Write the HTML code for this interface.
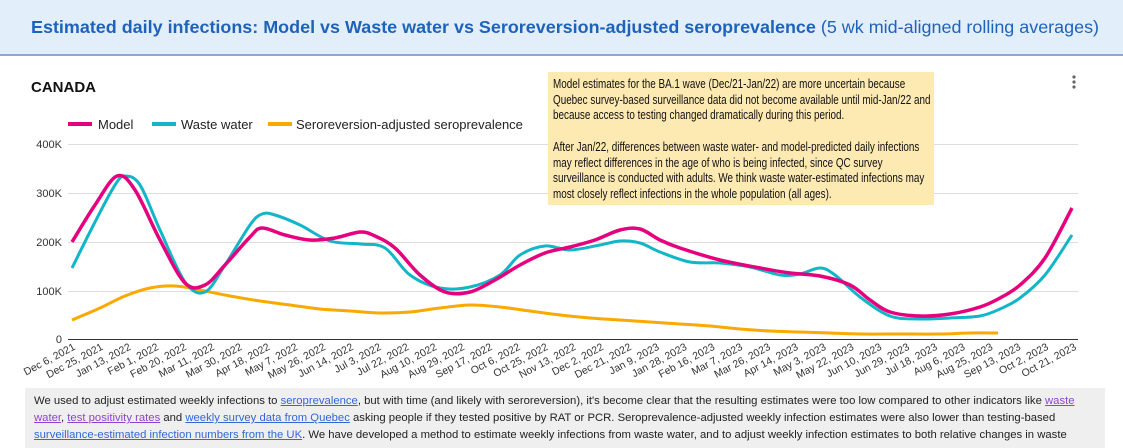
<!DOCTYPE html>
<html><head><meta charset="utf-8"><style>
body{margin:0;width:1123px;height:445px;overflow:hidden;background:#fff;font-family:"Liberation Sans",Arial,sans-serif;position:relative}
.hdr{position:absolute;left:0;top:0;width:1123px;height:54px;background:#e3eefb;border-bottom:2px solid #8fa6d6}
.hdr div{position:absolute;left:31px;top:17px;font-size:17.95px;color:#1e63b8;white-space:nowrap}
.card{position:absolute;left:0;top:56px;width:1123px;height:389px;background:#fff}
.note{position:absolute;left:548px;top:72px;width:386px;height:133px;background:#fde9b2;overflow:hidden}
.note div{position:absolute;left:5px;top:5px;font-size:12.6px;line-height:15.7px;color:#111;white-space:nowrap;transform:scaleX(0.785);transform-origin:0 0}
.bot{position:absolute;left:25px;top:388px;width:1080px;height:60px;background:#efefef;padding:5px 0 0 9px;box-sizing:border-box;font-size:11.3px;line-height:17px;color:#222;white-space:nowrap}
a{color:#3367d6;text-decoration:underline}
a.v{color:#8e44d0}
</style></head><body>
<div class="hdr"><div><b>Estimated daily infections: Model vs Waste water vs Seroreversion-adjusted seroprevalence</b> (5 wk mid-aligned rolling averages)</div></div>
<div class="card"></div>
<svg width="1123" height="445" style="position:absolute;left:0;top:0" font-family="Liberation Sans, Arial, sans-serif">
<text x="31" y="92" font-size="15" font-weight="bold" fill="#111">CANADA</text>
<g font-size="13" fill="#222">
<rect x="68" y="122" width="24" height="4" fill="#e5007d"/><text x="98" y="129">Model</text>
<rect x="152" y="122" width="24" height="4" fill="#13b5c7"/><text x="181" y="129">Waste water</text>
<rect x="268" y="122" width="24" height="4" fill="#f9a900"/><text x="296" y="129">Seroreversion-adjusted seroprevalence</text>
</g>
<g stroke="#ddd" stroke-width="1">
<line x1="68" x2="1078" y1="144.5" y2="144.5"/><line x1="68" x2="1078" y1="193.5" y2="193.5"/>
<line x1="68" x2="1078" y1="242.5" y2="242.5"/><line x1="68" x2="1078" y1="291.5" y2="291.5"/>
</g>
<line x1="68" x2="1078" y1="339.5" y2="339.5" stroke="#333"/>
<g font-size="11" fill="#333" text-anchor="end">
<text x="62" y="148">400K</text><text x="62" y="197">300K</text><text x="62" y="246">200K</text><text x="62" y="295">100K</text><text x="62" y="343">0</text>
</g>
<g id="xl" font-size="10.5" fill="#333" text-anchor="end"></g>
<path id="s" fill="none" stroke="#f9a900" stroke-width="3"/>
<path id="w" fill="none" stroke="#13b5c7" stroke-width="3"/>
<path id="m" fill="none" stroke="#e5007d" stroke-width="3.5"/>
<g fill="#666"><circle cx="1074" cy="77" r="1.6"/><circle cx="1074" cy="82" r="1.6"/><circle cx="1074" cy="87" r="1.6"/></g>
</svg>
<div class="note"><div>Model estimates for the BA.1 wave (Dec/21-Jan/22) are more uncertain because<br>Quebec survey-based surveillance data did not become available until mid-Jan/22 and<br>because access to testing changed dramatically during this period.<br><br>After Jan/22, differences between waste water- and model-predicted daily infections<br>may reflect differences in the age of who is being infected, since QC survey<br>surveillance is conducted with adults. We think waste water-estimated infections may<br>most closely reflect infections in the whole population (all ages).</div></div>
<div class="bot">We used to adjust estimated weekly infections to <a>seroprevalence</a>, but with time (and likely with seroreversion), it's become clear that the resulting estimates were too low compared to other indicators like <a class="v">waste</a><br><a class="v">water</a>, <a class="v">test positivity rates</a> and <a>weekly survey data from Quebec</a> asking people if they tested positive by RAT or PCR. Seroprevalence-adjusted weekly infection estimates were also lower than testing-based<br><a>surveillance-estimated infection numbers from the UK</a>. We have developed a method to estimate weekly infections from waste water, and to adjust weekly infection estimates to both relative changes in waste</div>
<script>
function sm(p){let d="M"+p[0][0]+","+p[0][1];for(let i=0;i<p.length-1;i++){const a=p[i-1]||p[i],b=p[i],c=p[i+1],e=p[i+2]||c;d+=" C"+(b[0]+(c[0]-a[0])/6)+","+(b[1]+(c[1]-a[1])/6)+" "+(c[0]-(e[0]-b[0])/6)+","+(c[1]-(e[1]-b[1])/6)+" "+c[0]+","+c[1];}return d;}
const m=[[72,242],[95,205],[117,176],[135,190],[160,240],[185,283],[205,285],[225,265],[250,237],[262,228],[285,235],[310,240],[335,238],[360,232],[375,236],[395,248],[420,275],[445,292],[470,292],[495,280],[520,265],[545,253],[570,247],[595,240],[620,230],[640,229],[660,240],[680,248],[720,260],[760,268],[790,273],[820,276],[850,285],[870,300],[890,312],[920,316],[950,314],[980,307],[1000,298],[1020,285],[1045,258],[1072,208]];
const w=[[72,268],[95,222],[115,185],[125,176],[140,185],[160,230],[185,282],[205,292],[225,265],[250,225],[262,214],[275,215],[300,225],[330,241],[360,244],[385,248],[410,275],[440,288],[470,287],[500,275],[520,255],[545,246],[570,250],[600,245],[620,241],[640,243],[660,252],[690,262],[720,263],[750,267],[780,275],[800,274],[820,268],[835,275],[860,297],[890,316],[920,319],[950,318],[980,316],[1000,309],[1020,298],[1045,275],[1072,235]];
const s=[[72,320],[100,308],[125,296],[150,288],[175,286],[200,290],[230,296],[260,301],[290,305],[320,309],[350,311],[380,313],[410,312],[440,308],[470,305],[500,307],[530,311],[560,315],[590,318],[620,320],[650,322],[680,324],[710,326],[740,329],[770,331],[800,332],[830,333],[860,334],[900,334],[940,334],[970,333],[998,333]];
document.getElementById("m").setAttribute("d",sm(m));
document.getElementById("w").setAttribute("d",sm(w));
document.getElementById("s").setAttribute("d",sm(s));
const L=["Dec 6, 2021","Dec 25, 2021","Jan 13, 2022","Feb 1, 2022","Feb 20, 2022","Mar 11, 2022","Mar 30, 2022","Apr 18, 2022","May 7, 2022","May 26, 2022","Jun 14, 2022","Jul 3, 2022","Jul 22, 2022","Aug 10, 2022","Aug 29, 2022","Sep 17, 2022","Oct 6, 2022","Oct 25, 2022","Nov 13, 2022","Dec 2, 2022","Dec 21, 2022","Jan 9, 2023","Jan 28, 2023","Feb 16, 2023","Mar 7, 2023","Mar 26, 2023","Apr 14, 2023","May 3, 2023","May 22, 2023","Jun 10, 2023","Jun 29, 2023","Jul 18, 2023","Aug 6, 2023","Aug 25, 2023","Sep 13, 2023","Oct 2, 2023","Oct 21, 2023"];
let h="";const n=L.length;L.forEach((t,i)=>{const x=76+i*(1077-76)/(n-1);h+=`<text transform="translate(${x.toFixed(1)},349) rotate(-28)">${t}</text>`;});
document.getElementById("xl").innerHTML=h;
</script>
</body></html>
